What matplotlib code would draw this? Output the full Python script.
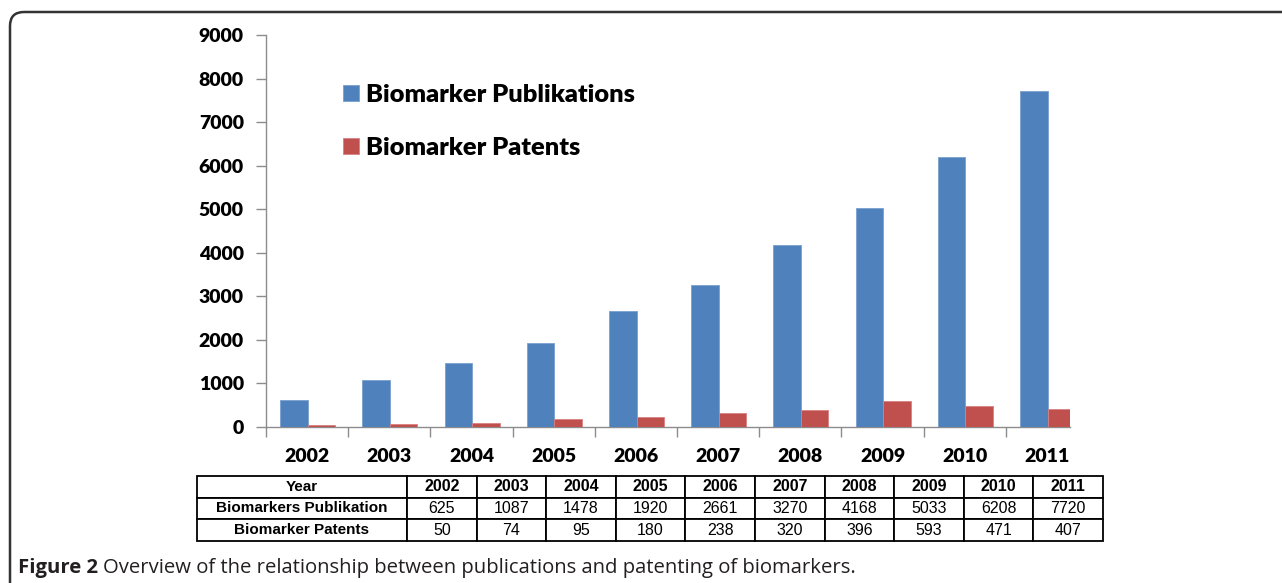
import numpy as np
import matplotlib
matplotlib.use("Agg")
import matplotlib.pyplot as plt
from matplotlib import font_manager
from matplotlib.patches import FancyBboxPatch

# data
years = ['2002', '2003', '2004', '2005', '2006', '2007', '2008', '2009', '2010', '2011']
publications = [625, 1087, 1478, 1920, 2661, 3270, 4168, 5033, 6208, 7720]
patents = [50, 74, 95, 180, 238, 320, 396, 593, 471, 407]
legend_labels = ['Biomarker Publikations', 'Biomarker Patents']
row_labels = ['Year', 'Biomarkers Publikation', 'Biomarker Patents']
caption_bold = 'Figure 2'
caption_rest = 'Overview of the relationship between publications and patenting of biomarkers.'

W, H = 1282, 583
blue = '#4f81bd'
red = '#c0504d'
axis_gray = '#8c8c8c'

chart_font = 'Lato'
lato_weights = sorted({f.weight for f in font_manager.fontManager.ttflist if f.name == 'Lato'})
heavy = 800 if 800 in lato_weights else 'bold'

fig = plt.figure(figsize=(W / 100, H / 100), dpi=100)

# rounded frame around the figure panel
bg = fig.add_axes([0, 0, 1, 1])
bg.set_xlim(0, W); bg.set_ylim(H, 0); bg.axis('off')
bg.add_patch(FancyBboxPatch((10, 12), 1320, 640, boxstyle='round,pad=0,rounding_size=14',
                            fill=False, ec='#333333', lw=1.8))

# bar chart
left, right, top, bottom = 266, 1070, 35, 427
ax = fig.add_axes([left / W, 1 - bottom / H, (right - left) / W, (bottom - top) / H])
x = np.arange(len(years))
w = 0.335
ax.bar(x - 0.16, publications, w, color=blue, ec='#7aa0d0', lw=0.6, label=legend_labels[0], zorder=3)
ax.bar(x + 0.175, patents, w, color=red, ec='#d88080', lw=0.6, label=legend_labels[1], zorder=3)
ax.set_ylim(0, 9000)
ax.set_xlim(-0.5, -0.5 + (right - left) / 82.2)
ax.set_yticks(np.arange(0, 9001, 1000))
ax.set_xticks(x)
ax.set_xticklabels(years)
ax.set_xticks(np.arange(len(years)) - 0.5, minor=True)
for s in ['top', 'right']:
    ax.spines[s].set_visible(False)
for s in ['left', 'bottom']:
    ax.spines[s].set_color(axis_gray)
    ax.spines[s].set_linewidth(1)
ax.tick_params(axis='x', which='major', length=0, pad=15)
ax.tick_params(axis='x', which='minor', length=7, color=axis_gray, width=1)
ax.tick_params(axis='y', length=7, color=axis_gray, width=1, pad=9)
for lab in ax.get_xticklabels() + ax.get_yticklabels():
    lab.set_fontfamily(chart_font)
    lab.set_fontweight(heavy)
    lab.set_fontsize(14)

ax.legend(loc='upper left', bbox_to_anchor=(343 / W, 1 - 84 / H), bbox_transform=fig.transFigure,
          frameon=False, prop={'family': chart_font, 'weight': heavy, 'size': 18.3},
          handlelength=0.62, handleheight=0.62, handletextpad=0.3, labelspacing=1.22,
          borderpad=0, borderaxespad=0)

# data table
tl, tr, tt, tb = 197, 1103, 476, 541
tax = fig.add_axes([tl / W, 1 - tb / H, (tr - tl) / W, (tb - tt) / H])
tax.axis('off')
cells = [[row_labels[0]] + years,
         [row_labels[1]] + [str(v) for v in publications],
         [row_labels[2]] + [str(v) for v in patents]]
first = 210 / (tr - tl)
col_w = [first] + [(1 - first) / len(years)] * len(years)
tbl = tax.table(cellText=cells, colWidths=col_w, bbox=[0, 0, 1, 1], cellLoc='center')
tbl.auto_set_font_size(False)
for (r, c), cell in tbl.get_celld().items():
    cell.set_linewidth(1.3)
    cell.set_edgecolor('black')
    t = cell.get_text()
    t.set_fontfamily('Liberation Sans')
    t.set_fontsize(11.5)
    if r == 0 or c == 0:
        t.set_fontweight('bold')
    if c == 0:
        t.set_fontsize(11)

# caption
fig.canvas.draw()
renderer = fig.canvas.get_renderer()
cap1 = fig.text(18 / W, 1 - 568 / H, caption_bold, fontsize=14.6, fontweight='bold',
                family='Open Sans', color='#231f20', va='center')
bb = cap1.get_window_extent(renderer)
fig.text((bb.x1 + 5) / W, 1 - 568 / H, caption_rest, fontsize=14.6, family='Open Sans',
         color='#231f20', va='center')

fig.savefig('out.png', dpi=100)
